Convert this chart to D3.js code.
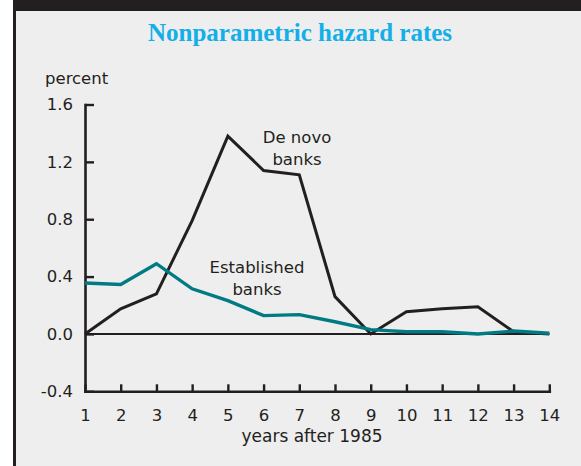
<!DOCTYPE html>
<html>
<head>
<meta charset="utf-8">
<script src="https://cdn.jsdelivr.net/npm/d3@7"></script>
<style>
  body { margin: 0; background: #fff; }
  svg { display: block; }
  text { font-family: "DejaVu Sans", sans-serif; fill: #231f20; }
</style>
</head>
<body>
<svg width="581" height="466"></svg>
<script>
// values
const years = [1, 2, 3, 4, 5, 6, 7, 8, 9, 10, 11, 12, 13, 14];
const deNovo = [0.0, 0.175, 0.28, 0.79, 1.38, 1.14, 1.11, 0.26, 0.0, 0.155, 0.175, 0.19, 0.015, 0.0];
const established = [0.355, 0.345, 0.49, 0.315, 0.232, 0.128, 0.135, 0.085, 0.03, 0.015, 0.015, 0.0, 0.02, 0.005];
const yTicks = [-0.4, 0.0, 0.4, 0.8, 1.2, 1.6];

const svg = d3.select("svg");
const width = +svg.attr("width");
const height = +svg.attr("height");
const ink = "#231f20";

// frame: dark bar on top, dark rule on the left, grey panel
svg.append("rect").attr("x", 13).attr("y", 0).attr("width", width - 13).attr("height", height).attr("fill", ink);
svg.append("rect").attr("x", 16).attr("y", 11).attr("width", width - 16).attr("height", height - 11).attr("fill", "#eeeeee");

svg.append("text")
    .attr("x", 300).attr("y", 41)
    .attr("text-anchor", "middle")
    .style("font-family", "'Liberation Serif', serif")
    .style("font-weight", "bold")
    .style("font-size", "25px")
    .style("fill", "#12afe9")
    .text("Nonparametric hazard rates");

const x = d3.scaleLinear().domain([1, 14]).range([85, 549.3]);
const y = d3.scaleLinear().domain([-0.4, 1.6]).range([391.3, 104.5]);

// zero line
svg.append("line")
    .attr("x1", x(1)).attr("x2", x(14))
    .attr("y1", y(0)).attr("y2", y(0))
    .attr("stroke", ink).attr("stroke-width", 2);

const xAxis = svg.append("g")
    .attr("transform", `translate(0,${y(-0.4)})`)
    .call(d3.axisBottom(x).tickValues(years).tickSizeInner(-7).tickSizeOuter(0).tickPadding(18).tickFormat(d3.format("d")));

const yAxis = svg.append("g")
    .attr("transform", `translate(${x(1)},0)`)
    .call(d3.axisLeft(y).tickValues(yTicks).tickSizeInner(-9).tickSizeOuter(0).tickPadding(12).tickFormat(d => d.toFixed(1)));

[xAxis, yAxis].forEach(g => {
    g.select(".domain").attr("stroke", ink).attr("stroke-width", 2.6).attr("stroke-linecap", "square");
    g.selectAll(".tick line").attr("stroke", ink).attr("stroke-width", 2.4);
    g.selectAll(".tick text").style("font-family", "'DejaVu Sans', sans-serif").style("font-size", "16.5px").attr("fill", ink);
});

svg.append("text").attr("x", 45).attr("y", 84).style("font-size", "16.5px").text("percent");
svg.append("text").attr("x", 312).attr("y", 442).attr("text-anchor", "middle").style("font-size", "17px").text("years after 1985");

const line = d3.line().x((d, i) => x(years[i])).y(d => y(d));

svg.append("path")
    .datum(deNovo)
    .attr("d", line)
    .attr("fill", "none")
    .attr("stroke", ink)
    .attr("stroke-width", 3)
    .attr("stroke-linejoin", "miter");

svg.append("path")
    .datum(established)
    .attr("d", line)
    .attr("fill", "none")
    .attr("stroke", "#007b84")
    .attr("stroke-width", 3.4)
    .attr("stroke-linejoin", "miter");

// series labels
const labels = [
    { lines: ["De novo", "banks"], cx: 297, y0: 143 },
    { lines: ["Established", "banks"], cx: 257, y0: 273 }
];
labels.forEach(l => {
    l.lines.forEach((t, i) => {
        svg.append("text")
            .attr("x", l.cx).attr("y", l.y0 + i * 22)
            .attr("text-anchor", "middle")
            .style("font-size", "16.5px")
            .text(t);
    });
});
</script>
</body>
</html>
